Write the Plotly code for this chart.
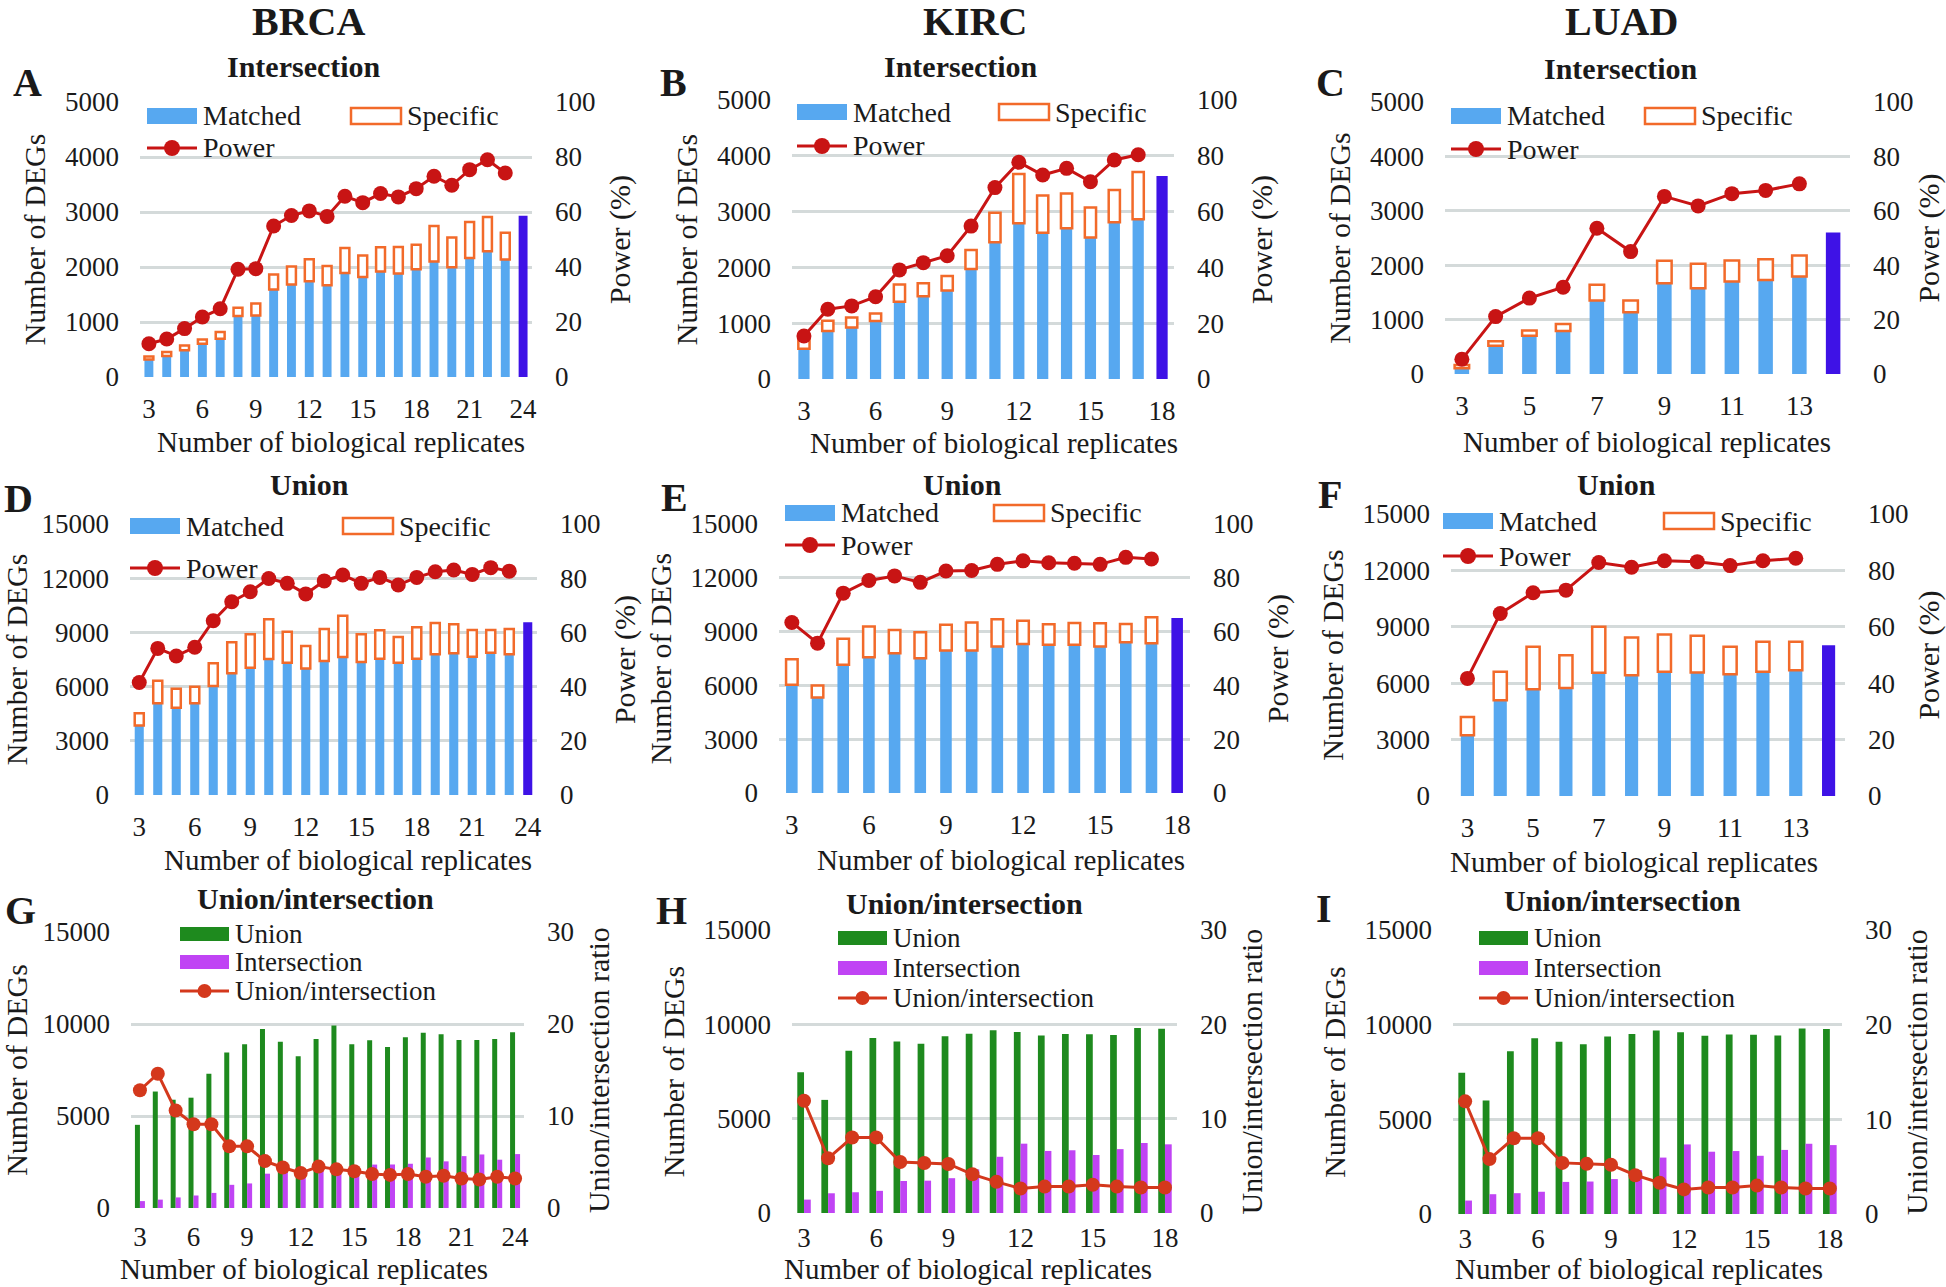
import plotly.graph_objects as go

W, H = 1946, 1287
FONT = "Liberation Serif"

BLUE = "#57A8F0"
ORANGE = "#F26A2A"
RED = "#C81414"
PURPLE = "#3E12E6"
GREEN = "#1E8A1E"
MAGENTA = "#C044F4"
RATIO_RED = "#D4381C"
GRID = "#D4DADA"
INK = "#1A1A1A"

# ---- values ----
# BRCA, intersection (A)
brca_x = list(range(3, 24))
brca_int_matched = [320, 380, 485, 605, 695, 1110, 1120, 1590, 1680, 1740, 1670, 1890, 1820,
                    1920, 1880, 1960, 2100, 1995, 2165, 2285, 2135]
brca_int_specific = [55, 75, 90, 75, 125, 150, 215, 275, 330, 400, 350, 455, 390, 440, 485,
                     445, 645, 540, 655, 625, 490]
brca_int_all = 2930
brca_int_power = [12.1, 13.8, 17.6, 21.8, 24.8, 39.2, 39.4, 54.9, 58.7, 60.4, 58.4, 65.7, 63.4,
                  66.7, 65.5, 68.5, 73.0, 69.7, 75.4, 79.0, 74.2]

# KIRC, intersection (B)
kirc_x = list(range(3, 18))
kirc_int_matched = [540, 860, 925, 1040, 1385, 1485, 1585, 1970, 2450, 2790, 2620, 2700, 2535,
                    2810, 2865]
kirc_int_specific = [170, 185, 175, 135, 310, 230, 260, 340, 530, 885, 670, 625, 540, 575, 845]
kirc_int_all = 3640
kirc_int_power = [15.4, 25.0, 26.2, 29.5, 39.1, 41.7, 44.2, 54.8, 68.6, 77.7, 73.1, 75.5, 70.7,
                  78.5, 80.4]

# LUAD, intersection (C)
luad_x = list(range(3, 14))
luad_int_matched = [105, 520, 705, 790, 1350, 1135, 1670, 1575, 1700, 1730, 1790]
luad_int_specific = [60, 80, 95, 130, 290, 215, 410, 450, 385, 380, 390]
luad_int_all = 2600
luad_int_power = [5.4, 21.1, 27.9, 31.9, 53.6, 45.0, 65.3, 61.8, 66.3, 67.5, 69.9]

# BRCA, union (D)
brca_uni_matched = [3840, 5075, 4835, 5075, 6035, 6735, 7050, 7530, 7325, 6995, 7415, 7640, 7360,
                    7545, 7325, 7545, 7785, 7840, 7655, 7880, 7785]
brca_uni_specific = [680, 1255, 1050, 920, 1255, 1715, 1845, 2195, 1715, 1250, 1775, 2285, 1535,
                     1570, 1420, 1735, 1735, 1605, 1480, 1255, 1405]
brca_uni_all = 9555
brca_uni_power = [41.5, 54.1, 51.3, 54.5, 64.3, 71.3, 75.0, 79.9, 78.1, 74.2, 79.0, 81.2, 78.1,
                  80.3, 77.5, 80.3, 82.4, 83.0, 81.4, 83.9, 82.6]

# KIRC, union (E)
kirc_uni_matched = [6035, 5330, 7145, 7575, 7795, 7520, 7945, 7945, 8170, 8315, 8260, 8260, 8170,
                    8410, 8355]
kirc_uni_specific = [1430, 665, 1450, 1705, 1300, 1445, 1430, 1560, 1520, 1285, 1150, 1225, 1300,
                     1020, 1445]
kirc_uni_all = 9765
kirc_uni_power = [63.4, 55.7, 74.3, 79.0, 80.7, 78.3, 82.5, 82.7, 85.0, 86.3, 85.6, 85.4, 85.0,
                  87.6, 87.0]

# LUAD, union (F)
luad_uni_matched = [3230, 5095, 5680, 5750, 6550, 6425, 6605, 6570, 6480, 6605, 6690]
luad_uni_specific = [975, 1510, 2255, 1740, 2450, 2005, 1985, 1950, 1455, 1595, 1510]
luad_uni_all = 8025
luad_uni_power = [41.7, 64.7, 72.1, 73.0, 82.8, 81.1, 83.4, 83.1, 81.7, 83.4, 84.3]

# union/intersection ratio (G, H; panel I repeats the KIRC numbers in the source figure)
brca_ratio = [12.8, 14.6, 10.6, 9.1, 9.1, 6.7, 6.7, 5.1, 4.4, 3.8, 4.5, 4.2, 4.0, 3.7, 3.6, 3.7,
              3.4, 3.5, 3.2, 3.1, 3.4, 3.2]
kirc_ratio = [11.9, 5.8, 8.0, 8.0, 5.4, 5.3, 5.2, 4.1, 3.3, 2.6, 2.8, 2.8, 3.0, 2.8, 2.7, 2.7]

ticks_24 = [3, 6, 9, 12, 15, 18, 21, 24]
ticks_18 = [3, 6, 9, 12, 15, 18]
ticks_13 = [3, 5, 7, 9, 11, 13]

fig = go.Figure()
shapes = []
annotations = []


def names(n):
    xa = "x" if n == 1 else f"x{n}"
    ya = "y" if n == 1 else f"y{n}"
    return xa, ya, f"y{n + 9}"


def key(name):
    return name[0] + "axis" + name[1:]


def set_axes(n, x0, x1, box, ymax, ydtick, rmax, rdtick, rtitle, xticks, xstand):
    left, right, top, bottom = box
    xa, ya, ya2 = names(n)
    tick = dict(family=FONT, size=27, color=INK)
    tfont = dict(family=FONT, size=30, color=INK)
    fig.update_layout({
        key(xa): dict(domain=[left / W, right / W], anchor=ya, range=[x0 - 0.5, x1 + 0.5],
                      tickmode="array", tickvals=xticks, showgrid=False, zeroline=False,
                      showline=False, ticks="", tickfont=tick, ticklabelstandoff=xstand,
                      automargin=False),
        key(ya): dict(domain=[1 - bottom / H, 1 - top / H], anchor=xa, range=[0, ymax],
                      dtick=ydtick, tickformat="d", showgrid=True, gridcolor=GRID, gridwidth=3,
                      zeroline=False, showline=False, ticks="", tickfont=tick,
                      ticklabelstandoff=20, automargin=False,
                      title=dict(text="Number of DEGs", font=tfont, standoff=10)),
        key(ya2): dict(overlaying=ya, side="right", anchor=xa, range=[0, rmax], dtick=rdtick,
                       tickformat="d", showgrid=False, zeroline=False, showline=False, ticks="",
                       tickfont=tick, ticklabelstandoff=22, automargin=False,
                       title=dict(text=rtitle, font=tfont, standoff=14)),
    })


def rect(x0, yc, fill, outline=None, w=50, h=16):
    shapes.append(dict(type="rect", xref="paper", yref="paper",
                       x0=x0 / W, x1=(x0 + w) / W, y0=1 - (yc + h / 2) / H, y1=1 - (yc - h / 2) / H,
                       fillcolor=fill, line=dict(color=outline or fill, width=2.5 if outline else 0)))


def dot_line(x0, yc, color, w=50, r=8):
    shapes.append(dict(type="line", xref="paper", yref="paper", x0=x0 / W, x1=(x0 + w) / W,
                       y0=1 - yc / H, y1=1 - yc / H, line=dict(color=color, width=3)))
    cx = x0 + w / 2
    shapes.append(dict(type="circle", xref="paper", yref="paper", x0=(cx - r) / W, x1=(cx + r) / W,
                       y0=1 - (yc + r) / H, y1=1 - (yc - r) / H, fillcolor=color, line_width=0))


def text(x, y, s, size=28, anchor="left", bold=False):
    annotations.append(dict(text=f"<b>{s}</b>" if bold else s, x=x / W, y=1 - y / H,
                            xref="paper", yref="paper", xanchor=anchor, yanchor="middle",
                            showarrow=False, font=dict(family=FONT, size=size, color=INK)))


def power_panel(n, x, matched, specific, all_n, power, box, ymax, ydtick, xticks, width, leg):
    xa, ya, ya2 = names(n)
    x_all = x[-1] + 1
    fig.add_trace(go.Bar(x=x, y=matched, width=width, marker=dict(color=BLUE, line_width=0),
                         xaxis=xa, yaxis=ya))
    fig.add_trace(go.Bar(x=x, y=specific, base=matched, width=width,
                         marker=dict(color="white", line=dict(color=ORANGE, width=2.5)),
                         xaxis=xa, yaxis=ya))
    fig.add_trace(go.Bar(x=[x_all], y=[all_n], width=width, marker=dict(color=PURPLE, line_width=0),
                         xaxis=xa, yaxis=ya))
    fig.add_trace(go.Scatter(x=x, y=power, mode="lines+markers", line=dict(color=RED, width=3),
                             marker=dict(color=RED, size=15), xaxis=xa, yaxis=ya2))
    set_axes(n, x[0], x_all, box, ymax, ydtick, 100, 20, "Power (%)", xticks, 13)
    lx, ly, sx, py = leg
    rect(lx, ly, BLUE)
    text(lx + 54, ly, "Matched")
    rect(sx, ly, "white", ORANGE)
    text(sx + 54, ly, "Specific")
    dot_line(lx, py, RED)
    text(lx + 54, py, "Power")


def ratio_panel(n, x, union, inter, ratio, box, xticks, leg, xstand):
    xa, ya, ya2 = names(n)
    fig.add_trace(go.Bar(x=x, y=union, width=0.28, offset=-0.28,
                         marker=dict(color=GREEN, line_width=0), xaxis=xa, yaxis=ya))
    fig.add_trace(go.Bar(x=x, y=inter, width=0.28, offset=0,
                         marker=dict(color=MAGENTA, line_width=0), xaxis=xa, yaxis=ya))
    fig.add_trace(go.Scatter(x=x, y=ratio, mode="lines+markers", line=dict(color=RATIO_RED, width=3),
                             marker=dict(color=RATIO_RED, size=14), xaxis=xa, yaxis=ya2))
    set_axes(n, x[0], x[-1], box, 15000, 5000, 30, 10, "Union/intersection ratio", xticks, xstand)
    lx, rows = leg
    rect(lx, rows[0], GREEN, w=49, h=14)
    text(lx + 53, rows[0], "Union", size=27)
    rect(lx, rows[1], MAGENTA, w=49, h=14)
    text(lx + 53, rows[1], "Intersection", size=27)
    dot_line(lx, rows[2], RATIO_RED, w=49, r=7)
    text(lx + 53, rows[2], "Union/intersection", size=27)


power_panel(1, brca_x, brca_int_matched, brca_int_specific, brca_int_all, brca_int_power,
            (140, 532, 102, 377), 5000, 1000, ticks_24, 0.5, (147, 116, 351, 148))
power_panel(2, kirc_x, kirc_int_matched, kirc_int_specific, kirc_int_all, kirc_int_power,
            (792, 1174, 100, 379), 5000, 1000, ticks_18, 0.47, (797, 112, 999, 146))
power_panel(3, luad_x, luad_int_matched, luad_int_specific, luad_int_all, luad_int_power,
            (1445, 1850, 102, 374), 5000, 1000, ticks_13, 0.43, (1451, 116, 1645, 149))
power_panel(4, brca_x, brca_uni_matched, brca_uni_specific, brca_uni_all, brca_uni_power,
            (130, 537, 524, 795), 15000, 3000, ticks_24, 0.49, (130, 526, 343, 568))
power_panel(5, kirc_x, kirc_uni_matched, kirc_uni_specific, kirc_uni_all, kirc_uni_power,
            (779, 1190, 524, 793), 15000, 3000, ticks_18, 0.45, (785, 513, 994, 545))
power_panel(6, luad_x, luad_uni_matched, luad_uni_specific, luad_uni_all, luad_uni_power,
            (1451, 1845, 514, 796), 15000, 3000, ticks_13, 0.4, (1443, 521, 1664, 556))

# union / intersection bars are the totals of the panels above, plus the last "all" bar
brca_union = [m + s for m, s in zip(brca_uni_matched, brca_uni_specific)] + [brca_uni_all]
brca_inter = [m + s for m, s in zip(brca_int_matched, brca_int_specific)] + [brca_int_all]
kirc_union = [m + s for m, s in zip(kirc_uni_matched, kirc_uni_specific)] + [kirc_uni_all]
kirc_inter = [m + s for m, s in zip(kirc_int_matched, kirc_int_specific)] + [kirc_int_all]

ratio_panel(7, list(range(3, 25)), brca_union, brca_inter, brca_ratio,
            (131, 524, 932, 1208), ticks_24, (180, (934, 962, 991)), 10)
ratio_panel(8, list(range(3, 19)), kirc_union, kirc_inter, kirc_ratio,
            (792, 1177, 930, 1213), ticks_18, (838, (938, 968, 998)), 6)
ratio_panel(9, list(range(3, 19)), kirc_union, kirc_inter, kirc_ratio,
            (1453, 1842, 930, 1214), ticks_18, (1479, (938, 968, 998)), 6)

# x-axis titles sit tight under the tick labels, as in the original
for cx, cy in [(341, 442), (994, 443), (1647, 442), (348, 860), (1001, 860), (1634, 862),
               (304, 1269), (968, 1269), (1639, 1269)]:
    text(cx, cy, "Number of biological replicates", size=29, anchor="center")

# column headers, panel letters, panel titles
for cx, s in [(308, "BRCA"), (975, "KIRC"), (1621, "LUAD")]:
    text(cx, 21, s, size=40, anchor="center", bold=True)
for (cx, cy), s in zip([(27, 83), (673, 83), (1330, 83), (18, 498), (674, 497), (1330, 495),
                        (20, 910), (671, 910), (1324, 908)], "ABCDEFGHI"):
    text(cx, cy, s, size=40, anchor="center", bold=True)
for (cx, cy), s in [((304, 67), "Intersection"), ((961, 67), "Intersection"),
                    ((1621, 69), "Intersection"), ((309, 484), "Union"), ((962, 484), "Union"),
                    ((1616, 485), "Union"), ((315, 898), "Union/intersection"),
                    ((964, 903), "Union/intersection"), ((1622, 900), "Union/intersection")]:
    text(cx, cy, s, size=30, anchor="center", bold=True)

fig.update_layout(width=W, height=H, margin=dict(l=0, r=0, t=0, b=0, autoexpand=False),
                  barmode="overlay", showlegend=False, plot_bgcolor="white",
                  paper_bgcolor="white", font=dict(family=FONT, color=INK),
                  shapes=shapes, annotations=annotations)
# drop the default page margin so the figure starts at the window corner
fig.write_html("out.html", config={"displayModeBar": False},
               post_script="document.body.style.margin = '0';")
